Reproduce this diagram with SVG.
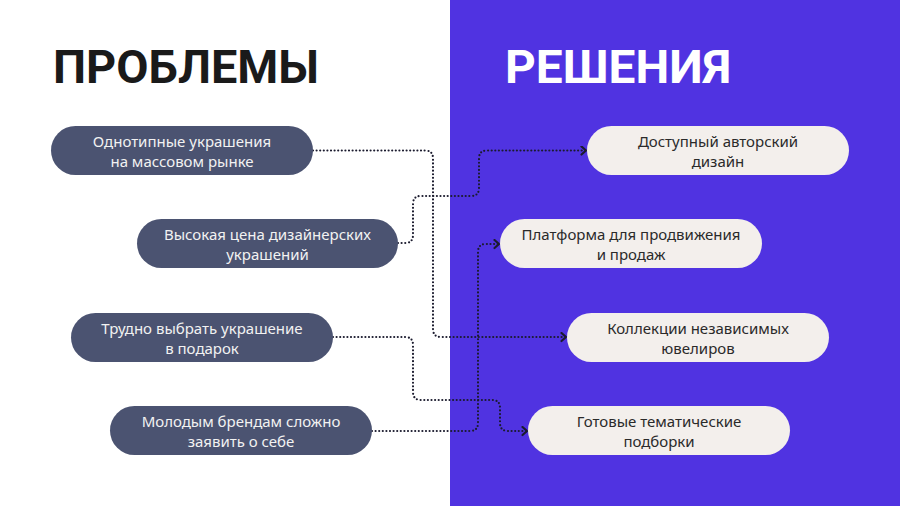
<svg xmlns="http://www.w3.org/2000/svg" width="900" height="506" viewBox="0 0 900 506">
<style>
.title{font-family:Roboto,"Liberation Sans",sans-serif;font-weight:700;font-size:46px}
.pn rect{fill:#4B5371}
.sn rect{fill:#F3EFEC}
.pn text{fill:#F2F2F2;font-family:"Noto Sans","Open Sans",sans-serif;font-size:15px;text-anchor:middle}
.sn text{fill:#2A2A2A;font-family:"Noto Sans","Open Sans",sans-serif;font-size:15px;text-anchor:middle}
.conn path{fill:none;stroke:#1B1B2E;stroke-width:2.2;stroke-linecap:round;stroke-dasharray:0 3.6;marker-end:url(#arr)}
</style>
<defs>
<marker id="arr" markerUnits="userSpaceOnUse" markerWidth="10" markerHeight="12" refX="6" refY="5" orient="auto">
<path d="M1.5,1 L6,5 L1.5,9" fill="none" stroke="#1B1B2E" stroke-width="2.2" stroke-linecap="round" stroke-linejoin="round"/>
</marker>
</defs>
<rect x="0" y="0" width="900" height="506" fill="#FFFFFF"/>
<rect x="450" y="0" width="450" height="506" fill="#5033E1"/>
<text class="title" x="53" y="83" fill="#1A1A1A" textLength="266" lengthAdjust="spacingAndGlyphs">ПРОБЛЕМЫ</text>
<text class="title" x="505" y="83" fill="#FFFFFF" textLength="226" lengthAdjust="spacingAndGlyphs">РЕШЕНИЯ</text>
<g class="conn">
<path d="M313,150.5 H425 Q433,150.5 433,158.5 V329 Q433,337 441,337 H566"/>
<path d="M398,243 H405 Q413,243 413,235 V204 Q413,196 421,196 H471 Q479,196 479,188 V158.5 Q479,150.5 487,150.5 H586"/>
<path d="M333,337 H405 Q413,337 413,345 V392 Q413,400 421,400 H492 Q500,400 500,408 V423 Q500,431 508,431 H527"/>
<path d="M372,431 H470 Q478,431 478,423 V252 Q478,244 486,244 H499"/>
</g>
<g id="p1" class="pn"><rect x="51" y="126" width="262" height="49" rx="24.5"/><text x="182" y="147">Однотипные украшения</text><text x="182" y="167">на массовом рынке</text></g>
<g id="p2" class="pn"><rect x="137" y="219" width="261" height="49" rx="24.5"/><text x="267.5" y="240">Высокая цена дизайнерских</text><text x="267.5" y="260">украшений</text></g>
<g id="p3" class="pn"><rect x="71" y="313" width="262" height="49" rx="24.5"/><text x="202" y="334">Трудно выбрать украшение</text><text x="202" y="354">в подарок</text></g>
<g id="p4" class="pn"><rect x="110" y="406" width="262" height="49" rx="24.5"/><text x="241" y="427">Молодым брендам сложно</text><text x="241" y="447">заявить о себе</text></g>
<g id="s1" class="sn"><rect x="587" y="126" width="262" height="49" rx="24.5"/><text x="718" y="147">Доступный авторский</text><text x="718" y="167">дизайн</text></g>
<g id="s2" class="sn"><rect x="500" y="219" width="262" height="49" rx="24.5"/><text x="631" y="240">Платформа для продвижения</text><text x="631" y="260">и продаж</text></g>
<g id="s3" class="sn"><rect x="567" y="313" width="262" height="49" rx="24.5"/><text x="698" y="334">Коллекции независимых</text><text x="698" y="354">ювелиров</text></g>
<g id="s4" class="sn"><rect x="528" y="406" width="262" height="49" rx="24.5"/><text x="659" y="427">Готовые тематические</text><text x="659" y="447">подборки</text></g>
</svg>
